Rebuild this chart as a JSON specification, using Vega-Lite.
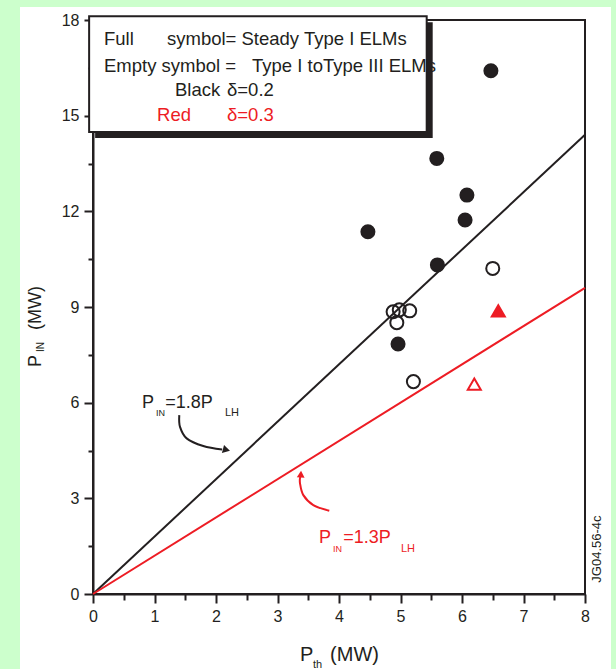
{
 "$schema": "https://vega.github.io/schema/vega-lite/v6.json",
 "width": 492,
 "height": 574,
 "autosize": {"type": "none"},
 "padding": {"left": 93, "top": 20, "right": 31, "bottom": 75},
 "background": "white",
 "config": {
  "font": "Liberation Sans",
  "view": {"stroke": "#231f20", "strokeWidth": 2, "fill": "white"},
  "axis": {"grid": false, "labelFlush": false, "domainColor": "#231f20", "domainWidth": 2, "tickColor": "#231f20", "tickWidth": 2, "labelColor": "#231f20", "labelFont": "Liberation Sans", "labelFontSize": 16, "titleFont": "Liberation Sans", "titleColor": "#231f20", "titleFontWeight": "normal"}
 },
 "resolve": {"axis": {"x": "independent", "y": "independent"}},
 "layer": [
  {
   "data": {"values": [{}]},
   "layer": [
    {"mark": {"type": "rect", "fill": "#ccffcc"}, "encoding": {"x": {"datum": -1.6}, "x2": {"datum": -1.187}, "y": {"datum": 18.8}, "y2": {"datum": -2.6}}},
    {"mark": {"type": "rect", "fill": "#ccffcc"}, "encoding": {"x": {"datum": -1.6}, "x2": {"datum": 8.6}, "y": {"datum": 18.8}, "y2": {"datum": 18.41}}},
    {"mark": {"type": "rect", "fill": "#ccffcc"}, "encoding": {"x": {"datum": 8.423}, "x2": {"datum": 8.6}, "y": {"datum": 18.8}, "y2": {"datum": -2.6}}},
    {
     "data": {"values": [
      {"rel": "1.8", "x": 0, "y": 0}, {"rel": "1.8", "x": 8, "y": 14.4},
      {"rel": "1.3", "x": 0, "y": 0}, {"rel": "1.3", "x": 8, "y": 9.6}
     ]},
     "mark": {"type": "line", "strokeWidth": 2},
     "encoding": {
      "x": {"field": "x", "type": "quantitative", "scale": {"domain": [0, 8], "nice": false, "zero": false},
            "axis": {"values": [0, 1, 2, 3, 4, 5, 6, 7, 8], "format": "d", "tickSize": 9, "labelPadding": 5, "title": "P\u00a0\u00a0\u00a0(MW)", "titleFontSize": 20, "titleBaseline": "alphabetic", "titleY": 66, "orient": "bottom"}},
      "y": {"field": "y", "type": "quantitative", "scale": {"domain": [0, 18], "nice": false, "zero": false},
            "axis": {"values": [0, 3, 6, 9, 12, 15, 18], "format": "d", "tickSize": 9, "labelPadding": 5, "title": "P\u00a0\u00a0\u00a0\u00a0\u00a0(MW)", "titleFontSize": 18, "titleAngle": 270, "titleX": -53, "titleY": 306, "titleBaseline": "alphabetic", "titleAlign": "center", "orient": "left"}},
      "color": {"field": "rel", "type": "nominal", "scale": {"domain": ["1.8", "1.3"], "range": ["#231f20", "#ed1c24"]}, "legend": null}
     }
    },
    {
     "data": {"values": [{"i": 0, "x": 1.403, "y": 5.61}, {"i": 1, "x": 1.415, "y": 5.24}, {"i": 2, "x": 1.523, "y": 4.88}, {"i": 3, "x": 1.793, "y": 4.64}, {"i": 4, "x": 2.1, "y": 4.53}]},
     "mark": {"type": "line", "color": "#231f20", "strokeWidth": 2, "interpolate": "cardinal"},
     "encoding": {"x": {"field": "x", "type": "quantitative"}, "y": {"field": "y", "type": "quantitative"}, "order": {"field": "i"}}
    },
    {"mark": {"type": "point", "shape": "triangle-right", "filled": true, "color": "#231f20", "size": 70, "angle": 15, "opacity": 1}, "encoding": {"x": {"datum": 2.17}, "y": {"datum": 4.52}}},
    {
     "data": {"values": [{"i": 0, "x": 3.842, "y": 2.61}, {"i": 1, "x": 3.582, "y": 2.79}, {"i": 2, "x": 3.42, "y": 3.1}, {"i": 3, "x": 3.366, "y": 3.47}, {"i": 4, "x": 3.37, "y": 3.68}]},
     "mark": {"type": "line", "color": "#ed1c24", "strokeWidth": 2, "interpolate": "cardinal"},
     "encoding": {"x": {"field": "x", "type": "quantitative"}, "y": {"field": "y", "type": "quantitative"}, "order": {"field": "i"}}
    },
    {"mark": {"type": "point", "shape": "triangle-up", "filled": true, "color": "#ed1c24", "size": 60, "angle": 3, "opacity": 1}, "encoding": {"x": {"datum": 3.38}, "y": {"datum": 3.76}}},
    {"mark": {"type": "rect", "fill": "#231f20", "xOffset": 6, "x2Offset": 6, "yOffset": 6, "y2Offset": 6}, "encoding": {"x": {"datum": -0.063}, "x2": {"datum": 5.426}, "y": {"datum": 18.12}, "y2": {"datum": 14.49}}},
    {"mark": {"type": "rect", "fill": "white", "stroke": "#231f20", "strokeWidth": 2}, "encoding": {"x": {"datum": -0.063}, "x2": {"datum": 5.426}, "y": {"datum": 18.12}, "y2": {"datum": 14.49}}},
    {"mark": {"type": "text", "align": "left", "baseline": "alphabetic", "fontSize": 18.5, "color": "#231f20"}, "encoding": {"x": {"datum": 0.179}, "y": {"datum": 17.22}, "text": {"value": "Full"}}},
    {"mark": {"type": "text", "align": "left", "baseline": "alphabetic", "fontSize": 18.5, "color": "#231f20"}, "encoding": {"x": {"datum": 1.203}, "y": {"datum": 17.22}, "text": {"value": "symbol= Steady Type I ELMs"}}},
    {"mark": {"type": "text", "align": "left", "baseline": "alphabetic", "fontSize": 18.5, "color": "#231f20"}, "encoding": {"x": {"datum": 0.179}, "y": {"datum": 16.37}, "text": {"value": "Empty symbol ="}}},
    {"mark": {"type": "text", "align": "left", "baseline": "alphabetic", "fontSize": 18.5, "color": "#231f20"}, "encoding": {"x": {"datum": 2.585}, "y": {"datum": 16.37}, "text": {"value": "Type I toType III ELMs"}}},
    {"mark": {"type": "text", "align": "left", "baseline": "alphabetic", "fontSize": 18.5, "color": "#231f20"}, "encoding": {"x": {"datum": 1.333}, "y": {"datum": 15.62}, "text": {"value": "Black"}}},
    {"mark": {"type": "text", "align": "left", "baseline": "alphabetic", "fontSize": 18.5, "color": "#231f20"}, "encoding": {"x": {"datum": 2.179}, "y": {"datum": 15.62}, "text": {"value": "δ=0.2"}}},
    {"mark": {"type": "text", "align": "left", "baseline": "alphabetic", "fontSize": 18.5, "color": "#ed1c24"}, "encoding": {"x": {"datum": 1.041}, "y": {"datum": 14.83}, "text": {"value": "Red"}}},
    {"mark": {"type": "text", "align": "left", "baseline": "alphabetic", "fontSize": 18.5, "color": "#ed1c24"}, "encoding": {"x": {"datum": 2.179}, "y": {"datum": 14.83}, "text": {"value": "δ=0.3"}}},
    {"mark": {"type": "text", "align": "left", "baseline": "alphabetic", "fontSize": 18, "color": "#231f20"}, "encoding": {"x": {"datum": 0.797}, "y": {"datum": 5.83}, "text": {"value": "P"}}},
    {"mark": {"type": "text", "align": "left", "baseline": "alphabetic", "fontSize": 9, "color": "#231f20"}, "encoding": {"x": {"datum": 1.024}, "y": {"datum": 5.58}, "text": {"value": "IN"}}},
    {"mark": {"type": "text", "align": "left", "baseline": "alphabetic", "fontSize": 18, "color": "#231f20"}, "encoding": {"x": {"datum": 1.175}, "y": {"datum": 5.83}, "text": {"value": "=1.8P"}}},
    {"mark": {"type": "text", "align": "left", "baseline": "alphabetic", "fontSize": 11, "color": "#231f20"}, "encoding": {"x": {"datum": 2.146}, "y": {"datum": 5.58}, "text": {"value": "LH"}}},
    {"mark": {"type": "text", "align": "left", "baseline": "alphabetic", "fontSize": 18, "color": "#ed1c24"}, "encoding": {"x": {"datum": 3.675}, "y": {"datum": 1.6}, "text": {"value": "P"}}},
    {"mark": {"type": "text", "align": "left", "baseline": "alphabetic", "fontSize": 9, "color": "#ed1c24"}, "encoding": {"x": {"datum": 3.902}, "y": {"datum": 1.32}, "text": {"value": "IN"}}},
    {"mark": {"type": "text", "align": "left", "baseline": "alphabetic", "fontSize": 18, "color": "#ed1c24"}, "encoding": {"x": {"datum": 4.07}, "y": {"datum": 1.6}, "text": {"value": "=1.3P"}}},
    {"mark": {"type": "text", "align": "left", "baseline": "alphabetic", "fontSize": 11, "color": "#ed1c24"}, "encoding": {"x": {"datum": 5.008}, "y": {"datum": 1.32}, "text": {"value": "LH"}}},
    {"mark": {"type": "text", "align": "center", "baseline": "alphabetic", "fontSize": 10, "angle": 270, "color": "#231f20"}, "encoding": {"x": {"datum": -0.797}, "y": {"datum": 7.745}, "text": {"value": "IN"}}},
    {"mark": {"type": "text", "align": "center", "baseline": "alphabetic", "fontSize": 11, "color": "#231f20"}, "encoding": {"x": {"datum": 3.65}, "y": {"datum": -2.32}, "text": {"value": "th"}}},
    {"mark": {"type": "text", "align": "center", "baseline": "alphabetic", "fontSize": 13, "angle": 270, "color": "#231f20"}, "encoding": {"x": {"datum": 8.26}, "y": {"datum": 1.41}, "text": {"value": "JG04.56-4c"}}}
   ]
  },
  {
   "data": {"values": [
    {"series": "Steady Type I, δ=0.2", "x": 6.47, "y": 16.41},
    {"series": "Steady Type I, δ=0.2", "x": 5.59, "y": 13.66},
    {"series": "Steady Type I, δ=0.2", "x": 6.08, "y": 12.51},
    {"series": "Steady Type I, δ=0.2", "x": 6.05, "y": 11.73},
    {"series": "Steady Type I, δ=0.2", "x": 4.47, "y": 11.36},
    {"series": "Steady Type I, δ=0.2", "x": 5.6, "y": 10.32},
    {"series": "Steady Type I, δ=0.2", "x": 4.96, "y": 7.84},
    {"series": "Type I to III, δ=0.2", "x": 4.88, "y": 8.85},
    {"series": "Type I to III, δ=0.2", "x": 4.98, "y": 8.91},
    {"series": "Type I to III, δ=0.2", "x": 5.15, "y": 8.88},
    {"series": "Type I to III, δ=0.2", "x": 4.94, "y": 8.51},
    {"series": "Type I to III, δ=0.2", "x": 6.5, "y": 10.21},
    {"series": "Type I to III, δ=0.2", "x": 5.21, "y": 6.66},
    {"series": "Steady Type I, δ=0.3", "x": 6.59, "y": 8.88},
    {"series": "Type I to III, δ=0.3", "x": 6.2, "y": 6.58}
   ]},
   "mark": {"type": "point", "strokeWidth": 2, "opacity": 1},
   "encoding": {
    "x": {"field": "x", "type": "quantitative", "axis": {"orient": "bottom", "values": [0.5, 1.5, 2.5, 3.5, 4.5, 5.5, 6.5, 7.5], "tickSize": 6, "labels": false, "domain": false, "title": null}},
    "y": {"field": "y", "type": "quantitative", "axis": {"orient": "left", "values": [1.5, 4.5, 7.5, 10.5, 13.5, 16.5], "tickSize": 5, "labels": false, "domain": false, "title": null}},
    "shape": {"field": "series", "type": "nominal", "scale": {"domain": ["Steady Type I, δ=0.2", "Type I to III, δ=0.2", "Steady Type I, δ=0.3", "Type I to III, δ=0.3"], "range": ["circle", "circle", "triangle-up", "triangle-up"]}, "legend": null},
    "fill": {"field": "series", "type": "nominal", "scale": {"domain": ["Steady Type I, δ=0.2", "Type I to III, δ=0.2", "Steady Type I, δ=0.3", "Type I to III, δ=0.3"], "range": ["#231f20", "transparent", "#ed1c24", "transparent"]}, "legend": null},
    "stroke": {"field": "series", "type": "nominal", "scale": {"domain": ["Steady Type I, δ=0.2", "Type I to III, δ=0.2", "Steady Type I, δ=0.3", "Type I to III, δ=0.3"], "range": ["#231f20", "#231f20", "#ed1c24", "#ed1c24"]}, "legend": null},
    "size": {"field": "series", "type": "nominal", "scale": {"domain": ["Steady Type I, δ=0.2", "Type I to III, δ=0.2", "Steady Type I, δ=0.3", "Type I to III, δ=0.3"], "range": [170, 170, 250, 225]}, "legend": null}
   }
  }
 ]
}
